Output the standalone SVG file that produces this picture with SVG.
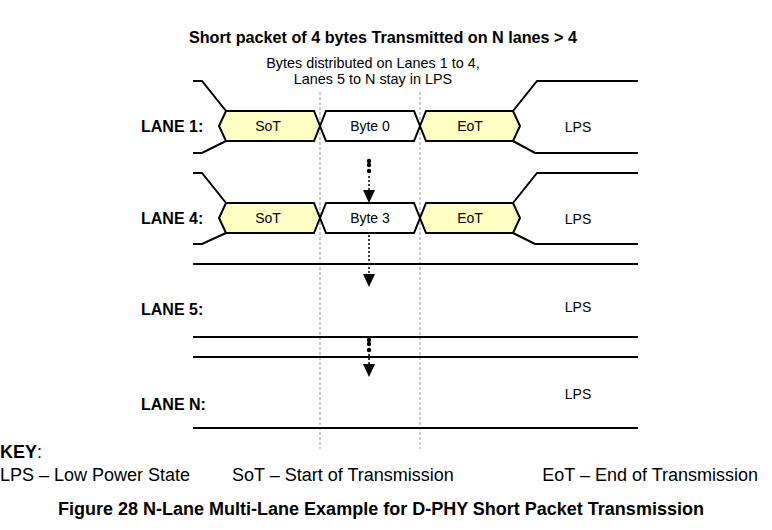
<svg xmlns="http://www.w3.org/2000/svg" width="772" height="530" viewBox="0 0 772 530">
<defs>
<style>
.t{font-family:"Liberation Sans",Arial,sans-serif;fill:#000}
.b{font-weight:bold}
.lbl{font-size:16px;font-weight:bold}
.hx{font-size:14px;text-anchor:middle}
.sig{fill:none;stroke:#000;stroke-width:2}
.hexY{fill:#FFFFC4;stroke:#000;stroke-width:2}
.hexW{fill:#fff;stroke:#000;stroke-width:2}
.guide{stroke:#999;stroke-width:1;stroke-dasharray:3,2;fill:none}
.dash{stroke:#000;stroke-width:1.5;stroke-dasharray:2,2;fill:none}
</style>
</defs>
<rect width="772" height="530" fill="#fff"/>

<text class="t b" x="383" y="43" font-size="16.2" text-anchor="middle">Short packet of 4 bytes Transmitted on N lanes &gt; 4</text>
<text class="t" x="373" y="67.5" font-size="14.4" text-anchor="middle">Bytes distributed on Lanes 1 to 4,</text>
<text class="t" x="373" y="83.5" font-size="14.4" text-anchor="middle">Lanes 5 to N stay in LPS</text>

<g id="guides">
<line class="guide" x1="320" y1="92" x2="320" y2="449"/>
<line class="guide" x1="420" y1="92" x2="420" y2="449"/>
</g>

<g id="lane1">
<text class="t lbl" x="141" y="132">LANE 1:</text>
<polyline class="sig" points="193,81 202,81 226,111"/>
<polyline class="sig" points="193,153 202,153 226,141"/>
<polyline class="sig" points="513,111 537,81 638,81"/>
<polyline class="sig" points="513,141 535,153 638,153"/>
<polygon class="hexY" points="219,126 226,111 314,111 320,126 314,141 226,141"/>
<polygon class="hexW" points="320,126 326,111 414,111 420,126 414,141 326,141"/>
<polygon class="hexY" points="420,126 426,111 513,111 520,126 513,141 426,141"/>
<text class="t hx" x="268" y="131">SoT</text>
<text class="t hx" x="370" y="131">Byte 0</text>
<text class="t hx" x="470" y="131">EoT</text>
<text class="t hx" x="578" y="132">LPS</text>
</g>

<g id="lane4">
<text class="t lbl" x="141" y="224">LANE 4:</text>
<polyline class="sig" points="193,173 202,173 226,203"/>
<polyline class="sig" points="193,244 202,244 226,233"/>
<polyline class="sig" points="513,203 537,173 638,173"/>
<polyline class="sig" points="513,233 535,244 638,244"/>
<polygon class="hexY" points="219,218 226,203 314,203 320,218 314,233 226,233"/>
<polygon class="hexW" points="320,218 326,203 414,203 420,218 414,233 326,233"/>
<polygon class="hexY" points="420,218 426,203 513,203 520,218 513,233 426,233"/>
<text class="t hx" x="268" y="223">SoT</text>
<text class="t hx" x="370" y="223">Byte 3</text>
<text class="t hx" x="470" y="223">EoT</text>
<text class="t hx" x="578" y="224">LPS</text>
</g>

<g id="lane5">
<text class="t lbl" x="141" y="315">LANE 5:</text>
<line class="sig" x1="193" y1="264" x2="638" y2="264"/>
<line class="sig" x1="193" y1="337" x2="638" y2="337"/>
<text class="t hx" x="578" y="312">LPS</text>
</g>

<g id="laneN">
<text class="t lbl" x="141" y="410">LANE N:</text>
<line class="sig" x1="193" y1="357" x2="638" y2="357"/>
<line class="sig" x1="193" y1="428" x2="638" y2="428"/>
<text class="t hx" x="578" y="399">LPS</text>
</g>

<g id="connectors">
<circle cx="369" cy="161" r="2.2"/>
<circle cx="369" cy="165" r="2.2"/>
<circle cx="369" cy="171" r="2.2"/>
<line class="dash" x1="369" y1="176" x2="369" y2="191"/>
<path d="M363,190 L375,190 L369,203 Z"/>
<line class="dash" x1="369" y1="235" x2="369" y2="275"/>
<path d="M363,274 L375,274 L369,287 Z"/>
<circle cx="369" cy="340" r="2.2"/>
<circle cx="369" cy="344" r="2.2"/>
<circle cx="369" cy="350" r="2.2"/>
<line class="dash" x1="369" y1="354" x2="369" y2="365"/>
<path d="M363,364 L375,364 L369,377 Z"/>
</g>

<g id="key">
<text class="t" x="0" y="458" font-size="18"><tspan font-weight="bold">KEY</tspan>:</text>
<text class="t" x="0" y="481" font-size="18">LPS – Low Power State</text>
<text class="t" x="232" y="481" font-size="18">SoT – Start of Transmission</text>
<text class="t" x="758" y="481" font-size="18" text-anchor="end">EoT – End of Transmission</text>
</g>
<text class="t b" x="381" y="515" font-size="18" text-anchor="middle">Figure 28 N-Lane Multi-Lane Example for D-PHY Short Packet Transmission</text>
</svg>
